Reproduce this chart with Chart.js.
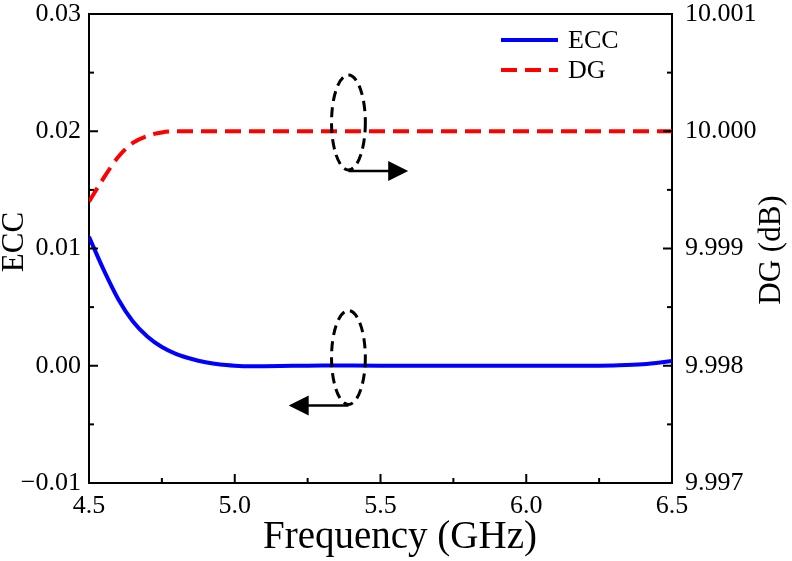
<!DOCTYPE html>
<html lang="en">
<head>
<meta charset="UTF-8">
<title>ECC and DG</title>
<script src="https://cdn.jsdelivr.net/npm/chart.js@4.4.0/dist/chart.umd.min.js"></script>
<style>
    body { margin: 0; background: #fff; }
    #chart { display: block; }
</style>
</head>
<body>
<canvas id="chart" width="792" height="561"></canvas>
<script>
    // ECC (left axis)
    const eccFreq   = [4.50, 4.55, 4.60, 4.65, 4.70, 4.75, 4.80, 4.85, 4.90, 4.95, 5.00, 5.05, 5.10, 5.20, 5.30, 5.50, 5.80, 6.00, 6.20, 6.30, 6.40, 6.50];
    const eccValues = [0.0110, 0.0082, 0.0057, 0.0038, 0.0025, 0.0016, 0.0010, 0.0006, 0.0003, 0.0001, 0.0000, -0.00005, -0.00004, 0.0000, 0.00003, 0.0000, 0.0000, 0.0000, 0.0000, 0.00003, 0.00012, 0.0004];

    // DG in dB (right axis)
    const dgFreq   = [4.50, 4.55, 4.60, 4.65, 4.70, 4.75, 4.80, 4.90, 5.00, 5.50, 6.00, 6.50];
    const dgValues = [9.99940, 9.99960, 9.99978, 9.99990, 9.99996, 9.99999, 10.0, 10.0, 10.0, 10.0, 10.0, 10.0];

    const xTicks   = [4.5, 5.0, 5.5, 6.0, 6.5];
    const eccTicks = [-0.01, 0.00, 0.01, 0.02, 0.03];
    const dgTicks  = [9.997, 9.998, 9.999, 10.000, 10.001];

    // ellipse + arrow markers pointing to each curve's axis (data units)
    const markers = [
        { axis: 'y1', cx: 5.39, cy: 10.000075, rx: 0.058, ry: 0.000405, arrowY: 9.99966, arrowTo: 5.595 },
        { axis: 'y',  cx: 5.39, cy: 0.0007,    rx: 0.058, ry: 0.0040,   arrowY: -0.0034, arrowTo: 5.185 }
    ];

    const FONT = "'Liberation Serif', 'Times New Roman', serif";

    const toPoints = (xs, ys) => xs.map((x, i) => ({ x: x, y: ys[i] }));
    const setTicks = arr => (scale => { scale.ticks = arr.map(v => ({ value: v })); });
    const fitWidth = w => (s => { s.width = w; s.paddingTop = 0; s.paddingBottom = 0; });

    // frame, inward major/minor ticks, axis titles
    const axesPlugin = {
        id: 'axesPlugin',
        afterDraw(chart) {
            const ctx = chart.ctx;
            const a = chart.chartArea;
            ctx.save();
            ctx.strokeStyle = '#000';
            ctx.lineWidth = 2;
            ctx.beginPath();
            ctx.moveTo(a.left - 1, a.top);
            ctx.lineTo(a.right + 1, a.top);
            ctx.stroke();

            const drawTicks = (scale, dir) => {
                const vals = scale.ticks.map(t => t.value);
                const marks = [];
                vals.forEach((v, i) => {
                    marks.push([v, 9]);
                    if (i < vals.length - 1) marks.push([(v + vals[i + 1]) / 2, 5]);
                });
                marks.forEach(([v, len]) => {
                    const p = scale.getPixelForValue(v);
                    ctx.beginPath();
                    if (dir === 'up') { ctx.moveTo(p, a.bottom); ctx.lineTo(p, a.bottom - len); }
                    if (dir === 'right') { ctx.moveTo(a.left, p); ctx.lineTo(a.left + len, p); }
                    if (dir === 'left') { ctx.moveTo(a.right, p); ctx.lineTo(a.right - len, p); }
                    ctx.stroke();
                });
            };
            drawTicks(chart.scales.x, 'up');
            drawTicks(chart.scales.y, 'right');
            drawTicks(chart.scales.y1, 'left');

            ctx.fillStyle = '#000';
            ctx.textAlign = 'center';
            ctx.textBaseline = 'middle';

            // x title sits a little right of centre in the original
            ctx.font = '39px ' + FONT;
            ctx.fillText(chart.scales.x.options.title.text, 400, 538);

            // both y titles read bottom-to-top
            const titles = [
                { scale: chart.scales.y,  x: 15,  y: 242 },
                { scale: chart.scales.y1, x: 772, y: 250 }
            ];
            ctx.font = '31px ' + FONT;
            titles.forEach(t => {
                ctx.save();
                ctx.translate(t.x, t.y);
                ctx.rotate(-Math.PI / 2);
                ctx.fillText(t.scale.options.title.text, 0, 0);
                ctx.restore();
            });
            ctx.restore();
        }
    };

    const markerPlugin = {
        id: 'markerPlugin',
        afterDatasetsDraw(chart) {
            const ctx = chart.ctx;
            const xs = chart.scales.x;
            ctx.save();
            ctx.strokeStyle = '#000';
            ctx.fillStyle = '#000';
            markers.forEach(m => {
                const ys = chart.scales[m.axis];
                const cx = xs.getPixelForValue(m.cx);
                const cy = ys.getPixelForValue(m.cy);
                const rx = xs.getPixelForValue(m.cx + m.rx) - cx;
                const ry = cy - ys.getPixelForValue(m.cy + m.ry);
                ctx.lineWidth = 3;
                ctx.setLineDash([10, 6]);
                ctx.beginPath();
                ctx.ellipse(cx, cy, rx, ry, 0, 0, Math.PI * 2);
                ctx.stroke();

                const ay = ys.getPixelForValue(m.arrowY);
                const ax = xs.getPixelForValue(m.arrowTo);
                const d = Math.sign(ax - cx);
                ctx.setLineDash([]);
                ctx.lineWidth = 2.5;
                ctx.beginPath();
                ctx.moveTo(cx, ay);
                ctx.lineTo(ax - d * 18, ay);
                ctx.stroke();
                ctx.beginPath();
                ctx.moveTo(ax, ay);
                ctx.lineTo(ax - d * 20, ay - 10);
                ctx.lineTo(ax - d * 20, ay + 10);
                ctx.closePath();
                ctx.fill();
            });
            ctx.restore();
        }
    };

    // legend inside the plot, top right
    const legendPlugin = {
        id: 'insideLegend',
        afterDraw(chart) {
            const ctx = chart.ctx;
            const x0 = 501, x1 = 558, textX = 568;
            const rows = [40, 70];
            ctx.save();
            ctx.font = '26px ' + FONT;
            ctx.textBaseline = 'middle';
            ctx.textAlign = 'left';
            chart.data.datasets.forEach((ds, i) => {
                const y = rows[i];
                ctx.strokeStyle = ds.borderColor;
                ctx.lineWidth = ds.borderWidth;
                ctx.setLineDash(ds.borderDash || []);
                ctx.beginPath();
                ctx.moveTo(x0, y);
                ctx.lineTo(x1, y);
                ctx.stroke();
                ctx.fillStyle = '#000';
                ctx.fillText(ds.label, textX, y + 1);
            });
            ctx.restore();
        }
    };

    const tickFont = { family: FONT, size: 26 };

    new Chart(document.getElementById('chart'), {
        type: 'line',
        data: {
            datasets: [{
                label: 'ECC',
                data: toPoints(eccFreq, eccValues),
                yAxisID: 'y',
                borderColor: '#0000ff',
                borderWidth: 4,
                pointRadius: 0,
                cubicInterpolationMode: 'monotone',
                fill: false
            }, {
                label: 'DG',
                data: toPoints(dgFreq, dgValues),
                yAxisID: 'y1',
                borderColor: '#ff0000',
                borderWidth: 4,
                borderDash: [16, 8],
                pointRadius: 0,
                cubicInterpolationMode: 'monotone',
                fill: false
            }]
        },
        options: {
            responsive: false,
            animation: false,
            devicePixelRatio: 1,
            layout: { padding: { top: 14, left: 0, right: 0, bottom: 0 } },
            plugins: {
                legend: { display: false },
                tooltip: { enabled: false }
            },
            scales: {
                x: {
                    type: 'linear',
                    min: 4.5,
                    max: 6.5,
                    afterBuildTicks: setTicks(xTicks),
                    afterFit: s => { s.height = 78; s.paddingLeft = 0; s.paddingRight = 0; },
                    grid: { display: false, drawTicks: false },
                    border: { display: true, color: '#000', width: 2 },
                    ticks: {
                        color: '#000',
                        font: tickFont,
                        padding: 8,
                        maxRotation: 0,
                        autoSkip: false,
                        callback: v => v.toFixed(1)
                    },
                    title: { display: false, text: 'Frequency (GHz)' }
                },
                y: {
                    position: 'left',
                    min: -0.01,
                    max: 0.03,
                    afterBuildTicks: setTicks(eccTicks),
                    afterFit: fitWidth(89),
                    grid: { display: false, drawTicks: false },
                    border: { display: true, color: '#000', width: 2 },
                    ticks: {
                        color: '#000',
                        font: tickFont,
                        padding: 8,
                        autoSkip: false,
                        callback: v => (v < -1e-9 ? '\u2212' : '') + Math.abs(v).toFixed(2)
                    },
                    title: { display: false, text: 'ECC' }
                },
                y1: {
                    position: 'right',
                    min: 9.997,
                    max: 10.001,
                    afterBuildTicks: setTicks(dgTicks),
                    afterFit: fitWidth(120),
                    grid: { display: false, drawTicks: false },
                    border: { display: true, color: '#000', width: 2 },
                    ticks: {
                        color: '#000',
                        font: tickFont,
                        padding: 13,
                        autoSkip: false,
                        callback: v => v.toFixed(3)
                    },
                    title: { display: false, text: 'DG (dB)' }
                }
            }
        },
        plugins: [axesPlugin, markerPlugin, legendPlugin]
    });
</script>
</body>
</html>
